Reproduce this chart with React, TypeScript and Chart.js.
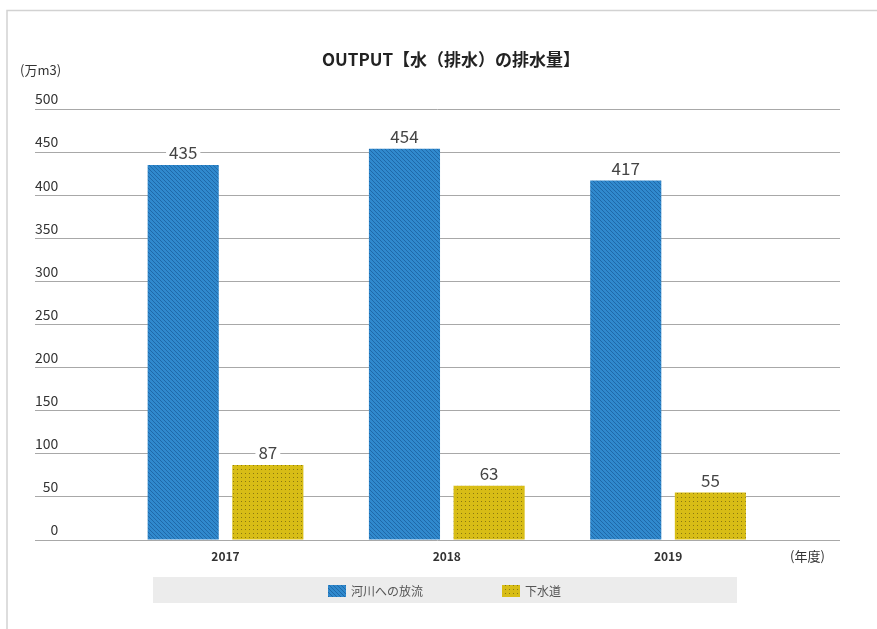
import React, { useEffect, useRef } from 'react';
import { Chart, registerables } from 'chart.js';

Chart.register(...registerables);

// ---- data ----
const years: string[] = ['2017', '2018', '2019'];
const riverValues: number[] = [435, 454, 417];
const sewerValues: number[] = [87, 63, 55];
const seriesNames: string[] = ['河川への放流', '下水道'];
const yMin = 0;
const yMax = 500;
const yStep = 50;
const chartTitle = 'OUTPUT【水（排水）の排水量】';
const yUnitLabel = '(万m3)';
const xUnitLabel = '(年度)';

const FONT = '"Noto Sans CJK JP", "Noto Sans", sans-serif';

function makeStripePattern(): CanvasPattern | string {
  const c = document.createElement('canvas');
  c.width = 4;
  c.height = 4;
  const g = c.getContext('2d');
  if (!g) return '#2f88cc';
  g.fillStyle = '#3089cd';
  g.fillRect(0, 0, 4, 4);
  g.fillStyle = '#1f69a9';
  for (let i = 0; i < 4; i++) g.fillRect(i, i, 1, 1);
  return g.createPattern(c, 'repeat') || '#2f88cc';
}

function makeDotPattern(): CanvasPattern | string {
  const c = document.createElement('canvas');
  c.width = 4;
  c.height = 4;
  const g = c.getContext('2d');
  if (!g) return '#d6bc14';
  g.fillStyle = '#d8bd16';
  g.fillRect(0, 0, 4, 4);
  g.fillStyle = '#8a7810';
  g.fillRect(1, 1, 1, 1);
  return g.createPattern(c, 'repeat') || '#d6bc14';
}

export default function App() {
  const ref = useRef<HTMLCanvasElement | null>(null);

  useEffect(() => {
    const canvas = ref.current;
    if (!canvas) return;
    const blue = makeStripePattern();
    const yellow = makeDotPattern();
    const fills = [blue, yellow];

    const decor = {
      id: 'decor',
      beforeDraw(chart: any) {
        const { ctx, width, height } = chart;
        ctx.save();
        ctx.fillStyle = '#ffffff';
        ctx.fillRect(0, 0, width, height);
        // frame
        ctx.strokeStyle = '#d2d2d2';
        ctx.lineWidth = 1.5;
        ctx.beginPath();
        ctx.moveTo(7, height);
        ctx.lineTo(7, 10.5);
        ctx.lineTo(width, 10.5);
        ctx.stroke();
        // legend background
        ctx.fillStyle = '#ececec';
        ctx.fillRect(153, 577, 584, 26);
        ctx.restore();
      },
      afterDatasetsDraw(chart: any) {
        const { ctx } = chart;
        ctx.save();
        ctx.font = `17px ${FONT}`;
        ctx.textAlign = 'center';
        ctx.textBaseline = 'middle';
        chart.data.datasets.forEach((ds: any, di: number) => {
          const meta = chart.getDatasetMeta(di);
          meta.data.forEach((el: any, i: number) => {
            const v = ds.data[i].y;
            const txt = String(v);
            const w = ctx.measureText(txt).width;
            const cy = el.y - 12;
            ctx.fillStyle = '#ffffff';
            ctx.fillRect(el.x - w / 2 - 3, cy - 8, w + 6, 16);
            ctx.fillStyle = '#444444';
            ctx.fillText(txt, el.x, cy);
          });
        });
        ctx.restore();
      },
      afterDraw(chart: any) {
        const { ctx, chartArea } = chart;
        ctx.save();
        // title
        ctx.fillStyle = '#222222';
        ctx.font = `bold 17px ${FONT}`;
        ctx.textAlign = 'center';
        ctx.textBaseline = 'middle';
        ctx.fillText(chartTitle, 451, 60);
        // y unit
        ctx.font = `13px ${FONT}`;
        ctx.fillStyle = '#333333';
        ctx.textAlign = 'left';
        ctx.fillText(yUnitLabel, 20, 70);
        // x unit
        ctx.fillText(xUnitLabel, chartArea.right - 50, 556);
        // legend
        const items = [
          { x: 328, label: seriesNames[0], fill: fills[0] },
          { x: 502, label: seriesNames[1], fill: fills[1] },
        ];
        ctx.font = `12px ${FONT}`;
        items.forEach((it) => {
          ctx.fillStyle = it.fill as any;
          ctx.fillRect(it.x, 585, 18, 12);
          ctx.fillStyle = '#555555';
          ctx.textAlign = 'left';
          ctx.fillText(it.label, it.x + 23, 591);
        });
        ctx.restore();
      },
    };

    const chart = new Chart(canvas, {
      type: 'bar',
      data: {
        datasets: [
          {
            label: seriesNames[0],
            data: riverValues.map((v, i) => ({ x: i, y: v })),
            backgroundColor: fills[0] as any,
            borderWidth: 0,
          },
          {
            label: seriesNames[1],
            data: sewerValues.map((v, i) => ({ x: i, y: v })),
            backgroundColor: fills[1] as any,
            borderWidth: 0,
          },
        ],
      },
      options: {
        responsive: false,
        animation: false,
        devicePixelRatio: 1,
        layout: { padding: { left: 35, right: 37, top: 109, bottom: 0 } },
        datasets: {
          bar: { categoryPercentage: 0.765, barPercentage: 0.84 },
        },
        plugins: {
          legend: { display: false },
          title: { display: false },
          tooltip: { enabled: false },
        },
        scales: {
          x: {
            type: 'linear',
            offset: false,
            min: -0.861,
            max: 2.777,
            grid: { display: false, drawTicks: false },
            border: { display: false },
            afterBuildTicks: (scale: any) => {
              scale.ticks = years.map((_, i) => ({ value: i }));
            },
            afterFit: (scale: any) => {
              scale.height = 89;
            },
            ticks: {
              padding: 9,
              autoSkip: false,
              maxRotation: 0,
              color: '#333333',
              font: { family: FONT, size: 12, weight: 'bold' },
              callback: (v: any) => years[Math.round(Number(v))] ?? '',
            },
          },
          y: {
            min: yMin,
            max: yMax,
            grid: { color: '#a8a8a8', lineWidth: 1, drawTicks: false },
            border: { display: false },
            afterFit: (scale: any) => {
              scale.width = 0;
            },
            ticks: {
              stepSize: yStep,
              mirror: true,
              crossAlign: 'far',
              padding: 0,
              labelOffset: -10,
              color: '#333333',
              font: { family: FONT, size: 14 },
            },
          },
        },
      },
      plugins: [decor],
    } as any);

    return () => chart.destroy();
  }, []);

  return (
    <canvas
      ref={ref}
      width={877}
      height={629}
      style={{ position: 'absolute', left: 0, top: 0, width: 877, height: 629 }}
    />
  );
}
